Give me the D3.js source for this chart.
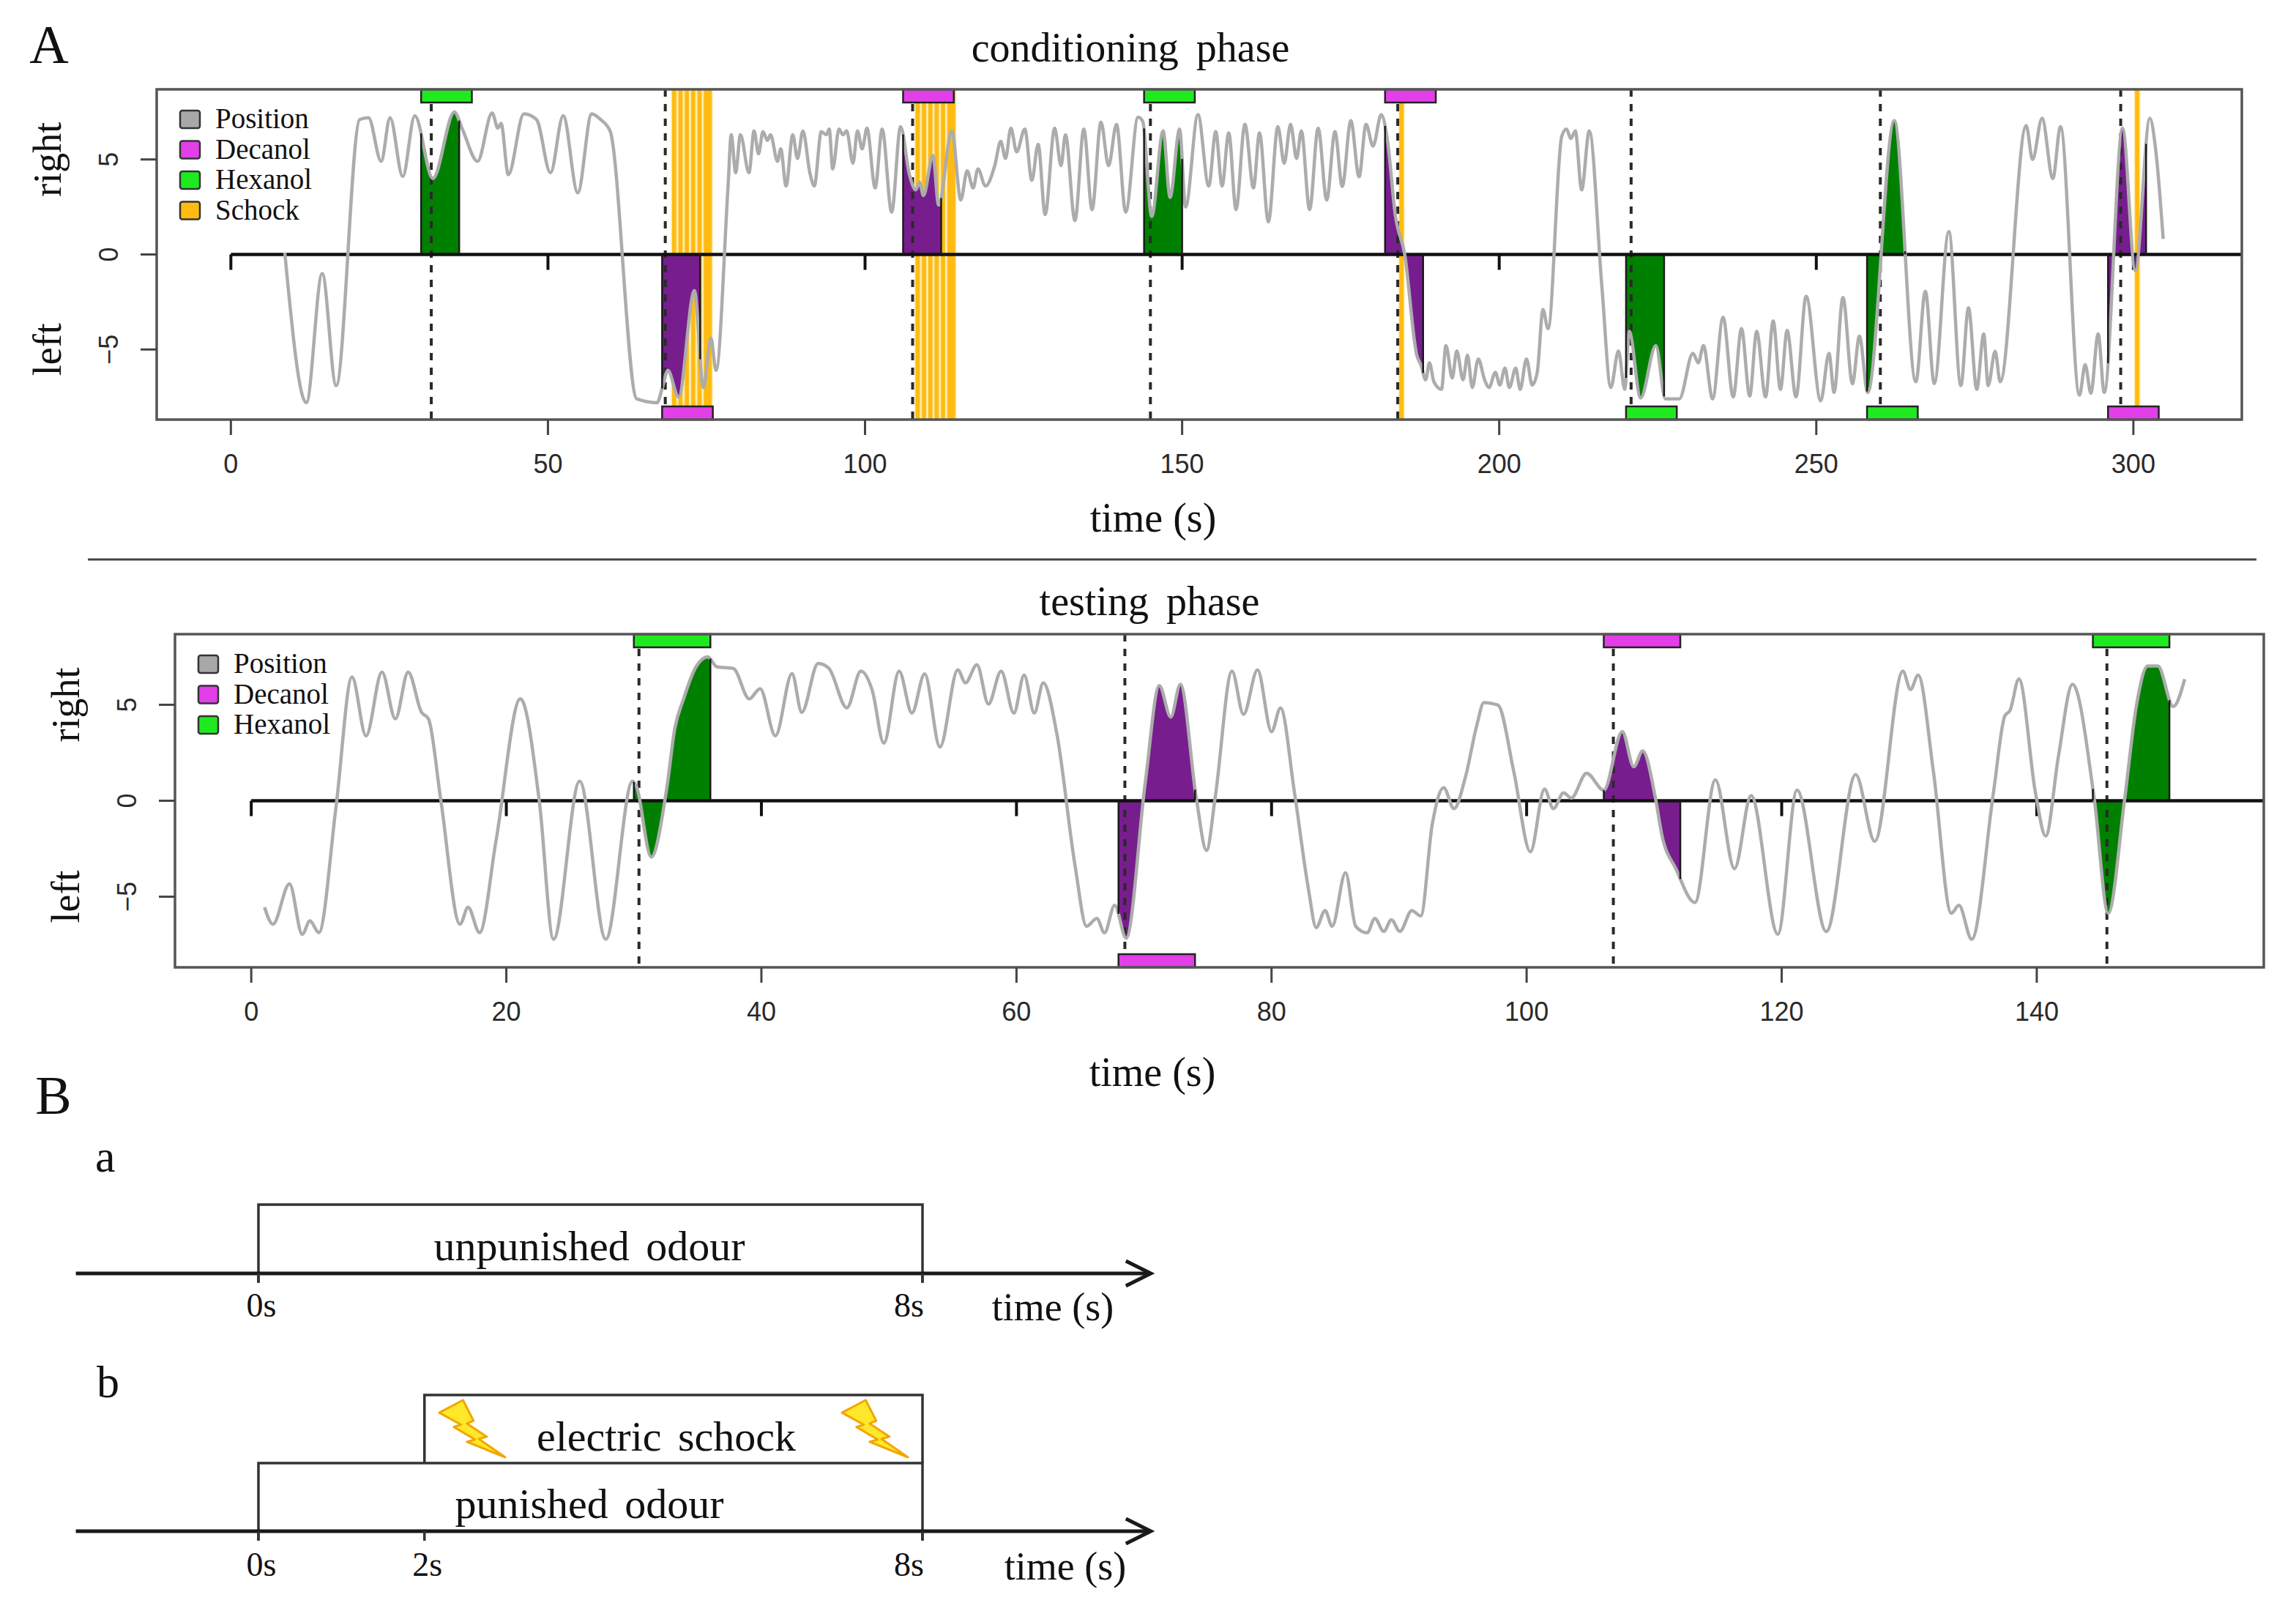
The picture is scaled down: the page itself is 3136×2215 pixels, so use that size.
<!DOCTYPE html>
<html>
<head>
<meta charset="utf-8">
<script src="https://cdn.jsdelivr.net/npm/d3@7"></script>
<style>
  body { margin: 0; background: #fff; }
  svg text { font-family: "Liberation Serif", "Times New Roman", serif; fill: #111; }
  svg text.tick-label { font-family: "Liberation Sans", Arial, sans-serif; fill: #2a2a2a; }
</style>
</head>
<body>
<svg id="fig" width="3136" height="2215"></svg>
<script>
//--------DATA--------

// conditioning phase: fly position over time (s)
const condTime = [
  8.5, 11.9, 14.4, 16.6, 20.3, 21.7, 23.7, 25.1, 27.1, 29.0, 31.85, 35.25, 36.5, 38.9, 41.2, 42.1, 42.6, 43.75,
  46.2, 48.2, 50.4, 52.4, 54.7, 56.9, 58.3, 59.8, 64.0, 67.2, 68.05, 68.9, 70.6, 73.1, 74.5, 75.7, 76.5,
  78.4, 78.9, 79.6, 80.35, 81.7, 82.5, 83.2, 83.9, 84.6, 85.1, 86.2, 86.7, 87.55, 88.6, 89.35, 90.2, 91.3,
  92.0, 93.1, 93.9, 94.35, 94.9, 95.9, 96.5, 97.1, 98.1, 98.8, 99.55, 100.3, 101.6, 102.7, 104.2, 105.6,
  107.0, 108.0, 108.6, 109.2, 110.7, 111.6, 113.7, 115.1, 116.1, 117.05, 117.8, 119.0, 120.45, 121.4,
  122.15, 123.0, 123.9, 125.2, 126.3, 127.3, 128.4, 129.9, 130.9, 131.6, 133.1, 134.5, 135.8, 137.2,
  138.4, 139.65, 141.1, 143.05, 143.8, 145.2, 147.0, 148.1, 149.6, 150.55, 152.5, 154.2, 155.3, 156.3,
  157.35, 158.5, 159.9, 161.25, 162.2, 163.6, 165.1, 166.1, 167.1, 168.05, 168.8, 170.1, 171.45, 172.8,
  174.1, 175.25, 176.6, 177.9, 179.0, 180.1, 181.4, 182.4, 183.6, 185.1, 187.0, 187.7, 188.4, 189.0,
  189.7, 190.9, 191.6, 192.6, 193.3, 194.3, 195.0, 195.75, 196.7, 197.7, 198.4, 199.4, 200.1, 200.9,
  201.6, 202.6, 203.3, 204.3, 205.2, 206.0, 206.9, 207.7, 209.85, 210.6, 211.3, 212.0, 213.0, 214.2,
  216.2, 217.6, 218.8, 219.8, 220.5, 222.3, 224.7, 226.2, 228.4, 230.55, 231.4, 232.2, 233.65, 235.3,
  236.9, 238.2, 239.5, 240.6, 242.0, 243.2, 244.35, 245.4, 246.8, 248.4, 250.7, 252.0, 252.8, 254.2,
  255.7, 256.8, 258.1, 262.3, 265.7, 267.2, 268.6, 270.9, 272.8, 274.0, 275.3, 276.4, 277.1, 278.2,
  279.0, 283.1, 284.1, 285.6, 287.3, 288.5, 291.5, 292.4, 293.3, 294.45, 295.4, 298.3, 300.3, 302.6,
  303.5, 304.7
];
const condPos = [
  0.1, -7.8, -1.0, -6.9, 7.1, 7.2, 4.9, 7.2, 4.1, 7.3, 4.0, 7.5, 6.6, 4.9, 7.45, 6.65, 6.9, 4.2,
  7.4, 7.1, 4.3, 7.3, 3.25, 7.4, 7.1, 6.5, -7.6, -7.8, -7.0, -6.1, -7.5, -1.9, -7.0, -4.4, -6.1,
  3.6, 6.3, 4.3, 6.3, 4.3, 6.5, 5.3, 6.46, 6.0, 6.3, 4.9, 5.56, 3.6, 6.3, 5.05, 6.5, 4.3,
  3.6, 6.46, 6.3, 6.6, 4.5, 6.6, 6.3, 6.5, 4.8, 6.5, 5.56, 6.65, 3.5, 6.6, 2.23, 6.72,
  4.2, 3.4, 3.8, 3.1, 5.2, 2.6, 6.5, 2.87, 4.4, 3.5, 4.5, 3.6, 4.67, 5.95,
  5.05, 6.65, 5.4, 6.6, 3.9, 5.8, 2.1, 6.65, 4.67, 6.3, 1.78, 6.6, 2.36, 6.97,
  4.67, 6.85, 2.23, 7.23, 7.0, 2.0, 6.5, 3.0, 6.6, 2.5, 7.36, 3.6, 6.46, 3.6,
  6.4, 2.36, 6.85, 3.5, 6.4, 1.72, 6.72, 4.8, 6.85, 5.05, 6.5, 2.36, 6.65, 2.87,
  6.46, 3.58, 7.04, 4.09, 6.85, 5.7, 7.36, 5.95, 2.1, 0.0, -5.3, -5.85, -6.6, -5.7,
  -6.7, -7.1, -4.8, -6.5, -5.08, -6.6, -5.3, -7.0, -5.5, -6.6, -7.0, -6.2, -6.87, -5.98,
  -7.0, -5.98, -7.1, -5.5, -6.87, -6.2, -2.9, -3.9, 6.2, 6.6, 6.1, 6.5, 3.4, 6.5,
  -1.74, -7.0, -5.08, -7.1, -4.05, -7.55, -4.8, -7.6, -7.6, -5.2, -5.7, -4.8, -7.6, -3.3,
  -7.5, -3.9, -7.45, -4.05, -7.5, -3.5, -7.1, -4.0, -7.5, -2.2, -7.7, -5.2, -7.26, -2.26,
  -6.8, -4.3, -7.26, 7.04, -6.7, -1.94, -6.8, 1.2, -6.9, -2.8, -7.1, -4.18, -6.9, -5.1,
  -6.7, 6.78, 5.0, 7.17, 4.0, 6.72, -7.4, -5.8, -7.3, -4.18, -7.26, 6.65, -0.85, 7.17,
  5.56, 0.82
];
const condOnset = [30, 68, 106, 144, 182, 220, 258, 296];
const condOdour = ['Hexanol', 'Decanol', 'Decanol', 'Hexanol', 'Decanol', 'Hexanol', 'Hexanol', 'Decanol'];
const condSide = ['right', 'left', 'right', 'right', 'right', 'left', 'left', 'left'];
const condDashed = [31.6, 68.5, 107.5, 145.0, 184.0, 220.8, 260.1, 298.0];
const condShock = [69.9, 70.9, 71.9, 72.9, 73.9, 74.9, 75.5,
                   108.3, 109.3, 110.3, 111.3, 112.3, 113.3, 113.9,
                   184.6, 300.6];
const condBarLen = 8;   // odour delivery (s)
const condFillLen = 6;  // highlighted window (s)
const condTicks = [0, 50, 100, 150, 200, 250, 300];

// testing phase
const testTime = [
  1.04, 1.7, 3.0, 4.0, 4.6, 5.3, 6.65, 7.9, 9.0, 10.25, 11.3, 12.3, 13.35, 13.9, 14.86, 16.37, 17.0,
  17.9, 19.2, 21.1, 22.6, 23.7, 25.75, 27.8, 29.9, 30.2, 31.36, 32.6, 33.2, 33.9, 34.8, 35.8, 36.5,
  37.8, 39.05, 39.9, 41.1, 42.4, 43.16, 44.45, 45.3, 46.7, 47.8, 48.7, 49.6, 50.8, 51.8, 52.8, 54.0,
  55.4, 56.0, 56.9, 57.8, 58.8, 59.8, 60.6, 61.4, 62.1, 63.15, 64.6, 65.5, 66.3, 66.9, 67.7, 68.6,
  70.1, 71.2, 72.1, 72.85, 74.1, 74.9, 75.6, 76.9, 77.8, 78.9, 80.0, 80.7, 81.8, 82.9, 83.5, 84.2,
  84.75, 85.8, 86.6, 87.5, 88.1, 88.8, 89.4, 90.06, 91.0, 91.7, 92.6, 93.5, 94.3, 95.2, 96.1, 96.65,
  97.75, 99.0, 100.3, 101.4, 102.1, 102.9, 103.5, 104.7, 106.05, 107.5, 108.4, 109.1, 110.1, 110.6,
  111.7, 113.2, 114.8, 116.3, 117.6, 119.7, 121.2, 123.5, 125.8, 127.3, 129.5, 130.1, 130.7, 131.9,
  133.3, 133.9, 134.9, 136.6, 137.5, 137.9, 138.6, 139.9, 140.7, 141.7, 142.8, 144.5, 145.6, 146.9,
  147.8, 148.7, 149.5, 150.7, 151.6
];
const testPos = [
  -5.55, -6.43, -4.33, -6.96, -6.26, -6.87, -0.3, 6.45, 3.38, 6.71, 4.26, 6.71, 4.61, 4.26, 0.05, -6.43, -5.55,
  -6.87, -2.05, 5.31, -0.1, -7.22, 1.02, -7.22, 1.02, 0.75, -2.93, 0.75, 3.73, 5.31, 6.89, 7.5, 6.98,
  6.89, 5.31, 5.84, 3.38, 6.63, 4.61, 7.15, 6.89, 4.84, 6.75, 5.73, 3.0, 6.75, 4.57, 6.61, 2.8,
  6.82, 6.14, 7.09, 5.04, 6.75, 4.57, 6.54, 4.57, 6.14, 3.55, -3.41, -6.54, -6.13, -6.88, -5.45, -7.16,
  0.96, 6.0, 4.36, 6.07, 0.14, -2.59, 0.27, 6.75, 4.5, 6.82, 3.6, 4.84, 0.41, -4.63, -6.61, -5.72,
  -6.54, -3.75, -6.54, -6.88, -6.13, -6.81, -6.2, -6.81, -5.72, -6.0, -1.23, 0.68, -0.41, 1.23, 3.95, 5.11,
  4.98, 1.5, -2.66, 0.61, -0.41, 0.41, 0.14, 1.43, 0.55, 3.61, 1.77, 2.59, 0.14, -1.77,
  -3.54, -5.3, 1.09, -3.54, 0.27, -6.95, 0.55, -6.81, 1.36, -2.11, 6.75, 5.8, 6.54, 1.5,
  -5.86, -5.45, -7.22, 0.41, 4.43, 4.7, 6.34, 0.41, -1.84, 2.32, 6.07, 0.14, -5.86, 0.14,
  4.91, 7.02, 7.02, 4.91, 6.34
];
const testOnset = [30, 68, 106.05, 144.4];
const testOdour = ['Hexanol', 'Decanol', 'Decanol', 'Hexanol'];
const testSide = ['right', 'left', 'right', 'right'];
const testDashed = [30.4, 68.5, 106.8, 145.5];
const testShock = [];
const testBarLen = 6;
const testFillLen = 6;
const testTicks = [0, 20, 40, 60, 80, 100, 120, 140];

const yTicks = [-5, 0, 5];
const condLegend = ['Position', 'Decanol', 'Hexanol', 'Schock'];
const testLegend = ['Position', 'Decanol', 'Hexanol'];

// protocol sketch (part B)
const protoTicksA = [0, 8];
const protoTicksB = [0, 2, 8];
const odourWindow = [0, 8];
const shockWindow = [2, 8];

//--------PANEL CLASS--------

class tracePanel{
    constructor(){
        this.barColor = {Decanol: '#e23fe8', Hexanol: '#1fea1f'};
        this.fillColor = {Decanol: '#771d8e', Hexanol: '#008000'};
        this.legendColor = {Position: '#a8a8a8', Decanol: '#e23fe8', Hexanol: '#1fea1f', Schock: '#ffbb11'};
    }

    setSelection(selection){ this.selection = selection; return this; }
    setName(name){ this.name = name; return this; }
    setBox(box){ this.box = box; return this; }
    setDomain(x, y){ this.xDomain = x; this.yDomain = y; return this; }
    setData(time, pos){ this.data = time.map((t, i) => ({t: t, v: pos[i]})); return this; }
    setOdours(onset, odour, side, barLen, fillLen){
        this.odours = onset.map((t, i) => ({t: t, odour: odour[i], side: side[i]}));
        this.barLen = barLen;
        this.fillLen = fillLen;
        return this;
    }
    setDashed(dashed){ this.dashed = dashed; return this; }
    setShocks(shocks){ this.shocks = shocks; return this; }
    setTicks(ticks){ this.ticks = ticks; return this; }
    setLegend(names){ this.legend = names; return this; }
    setLabels(labels){ this.labels = labels; return this; }

    draw(){
        let b = this.box;
        this.scaleX = d3.scaleLinear().domain(this.xDomain).range([b.x0, b.x1]);
        this.scaleY = d3.scaleLinear().domain(this.yDomain).range([b.y1, b.y0]);

        let defs = this.selection.append('defs');
        defs.append('clipPath').attr('id', `clip-${this.name}`)
            .append('rect')
            .attr('x', b.x0).attr('y', b.y0)
            .attr('width', b.x1 - b.x0).attr('height', b.y1 - b.y0);
        this.defs = defs;

        //layer order
        this.gShock = this.selection.append('g');
        this.gFill = this.selection.append('g');
        this.gDash = this.selection.append('g');
        this.gZero = this.selection.append('g');
        this.gTrace = this.selection.append('g');
        this.gEdge = this.selection.append('g');
        this.gBars = this.selection.append('g');
        this.gFrame = this.selection.append('g');

        this.drawTrace();
        this.drawShocks();
        this.drawFills();
        this.drawDashed();
        this.drawZero();
        this.drawBars();
        this.drawFrame();
        this.drawAxes();
        this.drawLegend();
        this.drawLabels();
    }

    drawTrace(){
        let line = d3.line()
            .x(d => this.scaleX(d.t))
            .y(d => this.scaleY(d.v))
            .curve(d3.curveMonotoneX);

        this.trace = this.gTrace.append('path')
            .datum(this.data)
            .attr('d', line)
            .attr('fill', 'none')
            .attr('stroke', '#acacac')
            .attr('stroke-width', 4.5)
            .attr('stroke-linejoin', 'round')
            .attr('clip-path', `url(#clip-${this.name})`);
    }

    //y of the drawn trace at a pixel x
    traceY(px){
        let node = this.trace.node();
        let lo = 0, hi = node.getTotalLength();
        for(let i = 0; i < 40; i++){
            let mid = (lo + hi) / 2;
            if(node.getPointAtLength(mid).x < px) lo = mid; else hi = mid;
        }
        return node.getPointAtLength(lo).y;
    }

    drawShocks(){
        let b = this.box;
        //pale halo then the orange pulse line
        [['#ffe7a3', 8.6], ['#ffbb11', 5.6]].forEach(([col, w]) => {
            this.gShock.append('g')
                .selectAll('line')
                .data(this.shocks)
                .join('line')
                .attr('x1', d => this.scaleX(d)).attr('x2', d => this.scaleX(d))
                .attr('y1', b.y0).attr('y2', b.y1)
                .attr('stroke', col)
                .attr('stroke-width', w);
        });
    }

    drawFills(){
        let b = this.box;
        let area = d3.area()
            .x(d => this.scaleX(d.t))
            .y0(this.scaleY(0))
            .y1(d => this.scaleY(d.v))
            .curve(d3.curveMonotoneX);

        this.odours.forEach((o, i) => {
            let id = `clip-${this.name}-fill-${i}`;
            let xa = this.scaleX(o.t), xb = this.scaleX(o.t + this.fillLen);
            this.defs.append('clipPath').attr('id', id)
                .append('rect')
                .attr('x', xa).attr('y', b.y0)
                .attr('width', xb - xa).attr('height', b.y1 - b.y0);

            this.gFill.append('path')
                .datum(this.data)
                .attr('d', area)
                .attr('fill', this.fillColor[o.odour])
                .attr('clip-path', `url(#${id})`);

            //dark polygon edges at both ends
            [xa, xb].forEach(x => {
                this.gEdge.append('line')
                    .attr('x1', x).attr('x2', x)
                    .attr('y1', this.scaleY(0)).attr('y2', this.traceY(x))
                    .attr('stroke', '#1a1a1a')
                    .attr('stroke-width', 2.5);
            });
        });
    }

    drawDashed(){
        let b = this.box;
        this.gDash.selectAll('line')
            .data(this.dashed)
            .join('line')
            .attr('x1', d => this.scaleX(d)).attr('x2', d => this.scaleX(d))
            .attr('y1', b.y0).attr('y2', b.y1)
            .attr('stroke', '#2a2a2a')
            .attr('stroke-width', 4)
            .attr('stroke-dasharray', '10,10');
    }

    drawZero(){
        let y0 = this.scaleY(0);
        this.gZero.append('line')
            .attr('x1', this.scaleX(0)).attr('x2', this.box.x1)
            .attr('y1', y0).attr('y2', y0)
            .attr('stroke', '#111')
            .attr('stroke-width', 4.5);

        this.gZero.selectAll('line.zt')
            .data(this.ticks)
            .join('line')
            .attr('class', 'zt')
            .attr('x1', d => this.scaleX(d)).attr('x2', d => this.scaleX(d))
            .attr('y1', y0).attr('y2', y0 + 21)
            .attr('stroke', '#111')
            .attr('stroke-width', 4);
    }

    drawBars(){
        let b = this.box;
        let h = 18;
        this.gBars.selectAll('rect')
            .data(this.odours)
            .join('rect')
            .attr('x', d => this.scaleX(d.t))
            .attr('width', d => this.scaleX(d.t + this.barLen) - this.scaleX(d.t))
            .attr('y', d => d.side == 'right' ? b.y0 : b.y1 - h)
            .attr('height', h)
            .attr('fill', d => this.barColor[d.odour])
            .attr('stroke', '#222')
            .attr('stroke-width', 2.5);
    }

    drawFrame(){
        let b = this.box;
        this.gFrame.append('rect')
            .attr('x', b.x0).attr('y', b.y0)
            .attr('width', b.x1 - b.x0).attr('height', b.y1 - b.y0)
            .attr('fill', 'none')
            .attr('stroke', '#555')
            .attr('stroke-width', 3.5);
    }

    drawAxes(){
        let b = this.box;
        let g = this.selection.append('g');

        g.selectAll('line.xt')
            .data(this.ticks)
            .join('line')
            .attr('class', 'xt')
            .attr('x1', d => this.scaleX(d)).attr('x2', d => this.scaleX(d))
            .attr('y1', b.y1).attr('y2', b.y1 + 21)
            .attr('stroke', '#444').attr('stroke-width', 3);

        g.selectAll('text.xl')
            .data(this.ticks)
            .join('text')
            .attr('class', 'xl tick-label')
            .attr('x', d => this.scaleX(d))
            .attr('y', b.y1 + 73)
            .attr('text-anchor', 'middle')
            .style('font-size', '36px')
            .text(d => d);

        g.selectAll('line.yt')
            .data(yTicks)
            .join('line')
            .attr('class', 'yt')
            .attr('x1', b.x0 - 22).attr('x2', b.x0)
            .attr('y1', d => this.scaleY(d)).attr('y2', d => this.scaleY(d))
            .attr('stroke', '#444').attr('stroke-width', 3);

        g.selectAll('text.yl')
            .data(yTicks)
            .join('text')
            .attr('class', 'yl tick-label')
            .attr('transform', d => `translate(${b.x0 - 53}, ${this.scaleY(d)}) rotate(-90)`)
            .attr('text-anchor', 'middle')
            .style('font-size', '36px')
            .text(d => d < 0 ? `\u2212${-d}` : d);
    }

    drawLegend(){
        let b = this.box;
        let rows = this.selection.append('g')
            .selectAll('g')
            .data(this.legend)
            .join('g')
            .attr('transform', (d, i) => `translate(${b.x0 + 32}, ${b.y0 + 41 + i * 41.5})`);

        rows.append('rect')
            .attr('x', 0).attr('y', -12)
            .attr('width', 27).attr('height', 24)
            .attr('rx', 3)
            .attr('fill', d => this.legendColor[d])
            .attr('stroke', '#333')
            .attr('stroke-width', 2.5);

        rows.append('text')
            .attr('x', 48)
            .attr('y', 12)
            .style('font-size', '39px')
            .text(d => d);
    }

    drawLabels(){
        let b = this.box;
        let l = this.labels;
        this.selection.append('text')
            .attr('x', l.titleX).attr('y', l.titleY)
            .attr('text-anchor', 'middle')
            .style('font-size', '56px')
            .style('word-spacing', '10px')
            .text(l.title);

        this.selection.append('text')
            .attr('x', l.xLabelX).attr('y', l.xLabelY)
            .attr('text-anchor', 'middle')
            .style('font-size', '56px')
            .text('time (s)');

        [['right', 5], ['left', -5]].forEach(([txt, v]) => {
            this.selection.append('text')
                .attr('transform', `translate(${b.x0 - 131}, ${this.scaleY(v)}) rotate(-90)`)
                .attr('text-anchor', 'middle')
                .style('font-size', '54px')
                .text(txt);
        });
    }
}

//--------DRAW--------

const svg = d3.select('#fig');

new tracePanel()
    .setSelection(svg.append('g'))
    .setName('cond')
    .setBox({x0: 214, x1: 3062, y0: 122, y1: 573})
    .setDomain([-11.7, 317.1], [-8.69, 8.69])
    .setData(condTime, condPos)
    .setOdours(condOnset, condOdour, condSide, condBarLen, condFillLen)
    .setDashed(condDashed)
    .setShocks(condShock)
    .setTicks(condTicks)
    .setLegend(condLegend)
    .setLabels({title: 'conditioning phase', titleX: 1544, titleY: 84, xLabelX: 1575, xLabelY: 726})
    .draw();

new tracePanel()
    .setSelection(svg.append('g'))
    .setName('test')
    .setBox({x0: 239, x1: 3092, y0: 866, y1: 1321})
    .setDomain([-5.98, 157.8], [-8.68, 8.68])
    .setData(testTime, testPos)
    .setOdours(testOnset, testOdour, testSide, testBarLen, testFillLen)
    .setDashed(testDashed)
    .setShocks(testShock)
    .setTicks(testTicks)
    .setLegend(testLegend)
    .setLabels({title: 'testing phase', titleX: 1570, titleY: 840, xLabelX: 1574, xLabelY: 1483})
    .draw();

//panel letters and separator
svg.append('text').attr('x', 67).attr('y', 86).attr('text-anchor', 'middle')
    .style('font-size', '74px').text('A');
svg.append('text').attr('x', 73).attr('y', 1521).attr('text-anchor', 'middle')
    .style('font-size', '74px').text('B');
svg.append('line')
    .attr('x1', 120).attr('x2', 3082).attr('y1', 764).attr('y2', 764)
    .attr('stroke', '#444').attr('stroke-width', 3);

//--------PROTOCOL SKETCH--------

const scaleB = d3.scaleLinear().domain([0, 8]).range([353, 1260]);
const protoG = svg.append('g');

function drawTimeline(g, yAxis, ticks, labelY, timeX){
    g.append('line')
        .attr('x1', scaleB(-2.2)).attr('x2', scaleB(10.75))
        .attr('y1', yAxis).attr('y2', yAxis)
        .attr('stroke', '#1a1a1a').attr('stroke-width', 5);
    let tip = scaleB(10.75);
    g.append('path')
        .attr('d', `M${tip - 34},${yAxis - 17} L${tip},${yAxis} L${tip - 34},${yAxis + 17}`)
        .attr('fill', 'none').attr('stroke', '#1a1a1a').attr('stroke-width', 5);

    g.selectAll(null)
        .data(ticks)
        .join('line')
        .attr('x1', d => scaleB(d)).attr('x2', d => scaleB(d))
        .attr('y1', yAxis).attr('y2', yAxis + 13)
        .attr('stroke', '#333').attr('stroke-width', 3.5);

    g.selectAll(null)
        .data(ticks)
        .join('text')
        .attr('x', (d, i) => i == ticks.length - 1 ? scaleB(d) + 2 : scaleB(d) + 4)
        .attr('y', labelY)
        .attr('text-anchor', (d, i) => i == ticks.length - 1 ? 'end' : 'middle')
        .style('font-size', '46px')
        .text(d => `${d}s`);

    g.append('text')
        .attr('x', timeX).attr('y', labelY + 5)
        .attr('text-anchor', 'middle')
        .style('font-size', '54px')
        .text('time (s)');
}

function drawWindow(g, win, yTop, yBottom, label, labelX, labelY){
    g.append('path')
        .attr('d', `M${scaleB(win[0])},${yBottom} V${yTop} H${scaleB(win[1])} V${yBottom}`)
        .attr('fill', 'none').attr('stroke', '#333').attr('stroke-width', 3.5);
    g.append('text')
        .attr('x', labelX).attr('y', labelY)
        .attr('text-anchor', 'middle')
        .style('font-size', '58px')
        .style('word-spacing', '8px')
        .text(label);
}

function drawBolt(g, x, y){
    let w = 90, h = 78;
    let pts = [[0.0, 0.22], [0.36, 0.0], [0.52, 0.36], [0.42, 0.41], [0.72, 0.64], [0.6, 0.68],
               [1.0, 1.0], [0.42, 0.73], [0.54, 0.69], [0.22, 0.47], [0.33, 0.43]];
    g.append('polygon')
        .attr('points', pts.map(p => `${x + p[0] * w},${y + p[1] * h}`).join(' '))
        .attr('fill', '#ffe82a')
        .attr('stroke', '#f2a600')
        .attr('stroke-width', 3)
        .attr('stroke-linejoin', 'round');
}

// a: unpunished odour
protoG.append('text').attr('x', 130).attr('y', 1600).style('font-size', '62px').text('a');
drawWindow(protoG, odourWindow, 1645, 1751, 'unpunished odour', 805, 1721);
drawTimeline(protoG, 1739, protoTicksA, 1798, 1438);

// b: punished odour with electric shock
protoG.append('text').attr('x', 132).attr('y', 1908).style('font-size', '62px').text('b');
drawWindow(protoG, shockWindow, 1905, 1998, 'electric schock', 910, 1981);
drawWindow(protoG, odourWindow, 1998, 2103, 'punished odour', 805, 2073);
drawBolt(protoG, 600, 1912);
drawBolt(protoG, 1150, 1912);
drawTimeline(protoG, 2091, protoTicksB, 2152, 1455);
</script>
</body>
</html>
